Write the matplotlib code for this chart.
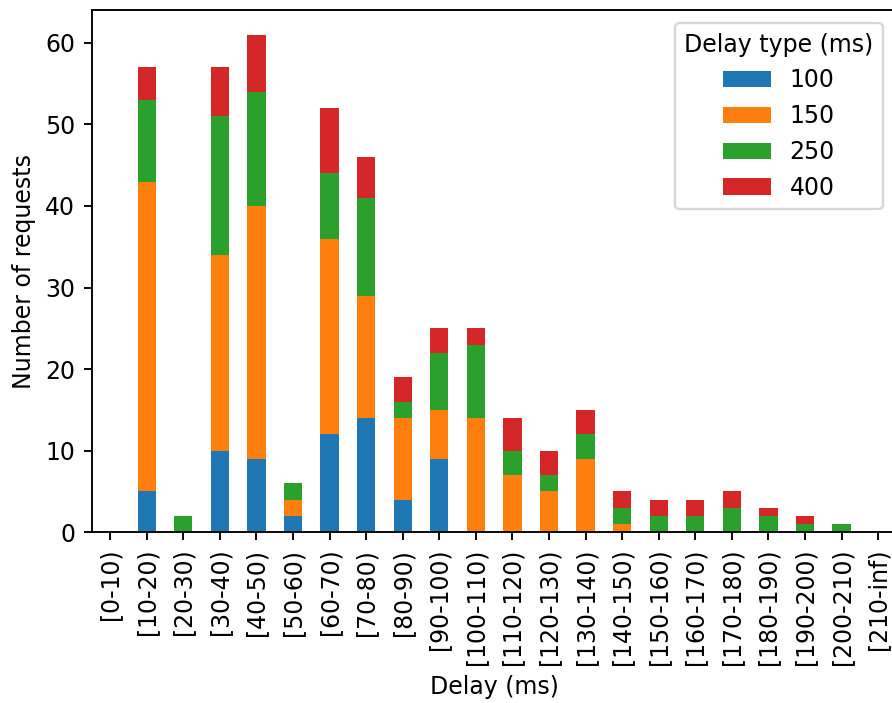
import numpy as np
import matplotlib
matplotlib.use("Agg")
import matplotlib.pyplot as plt

bins = ["[0-10)", "[10-20)", "[20-30)", "[30-40)", "[40-50)", "[50-60)",
        "[60-70)", "[70-80)", "[80-90)", "[90-100)", "[100-110)", "[110-120)",
        "[120-130)", "[130-140)", "[140-150)", "[150-160)", "[160-170)",
        "[170-180)", "[180-190)", "[190-200)", "[200-210)", "[210-inf)"]

d100 = [0, 5, 0, 10, 9, 2, 12, 14, 4, 9, 0, 0, 0, 0, 0, 0, 0, 0, 0, 0, 0, 0]
d150 = [0, 38, 0, 24, 31, 2, 24, 15, 10, 6, 14, 7, 5, 9, 1, 0, 0, 0, 0, 0, 0, 0]
d250 = [0, 10, 2, 17, 14, 2, 8, 12, 2, 7, 9, 3, 2, 3, 2, 2, 2, 3, 2, 1, 1, 0]
d400 = [0, 4, 0, 6, 7, 0, 8, 5, 3, 3, 2, 4, 3, 3, 2, 2, 2, 2, 1, 1, 0, 0]

series = {"100": d100, "150": d150, "250": d250, "400": d400}
colors = ["#1f77b4", "#ff7f0e", "#2ca02c", "#d62728"]

DPI = 170
fig = plt.figure(figsize=(892 / DPI, 703 / DPI), dpi=DPI)
ax = fig.add_axes([0.103, 0.243, 0.902, 0.743])

x = np.arange(len(bins))
bottom = np.zeros(len(bins))
for (name, vals), c in zip(series.items(), colors):
    ax.bar(x, vals, width=0.5, bottom=bottom, color=c, label=name)
    bottom += np.array(vals)

ax.set_xticks(x)
ax.set_xticklabels(bins, rotation=90)
ax.set_xlim(-0.5, len(bins) - 0.5)
ax.set_ylim(0, max(bottom) * 1.05)
ax.set_xlabel("Delay (ms)")
ax.set_ylabel("Number of requests")
ax.legend(title="Delay type (ms)", loc="upper right",
          bbox_to_anchor=(0.998, 0.997))

fig.savefig("out.png", dpi=DPI)
